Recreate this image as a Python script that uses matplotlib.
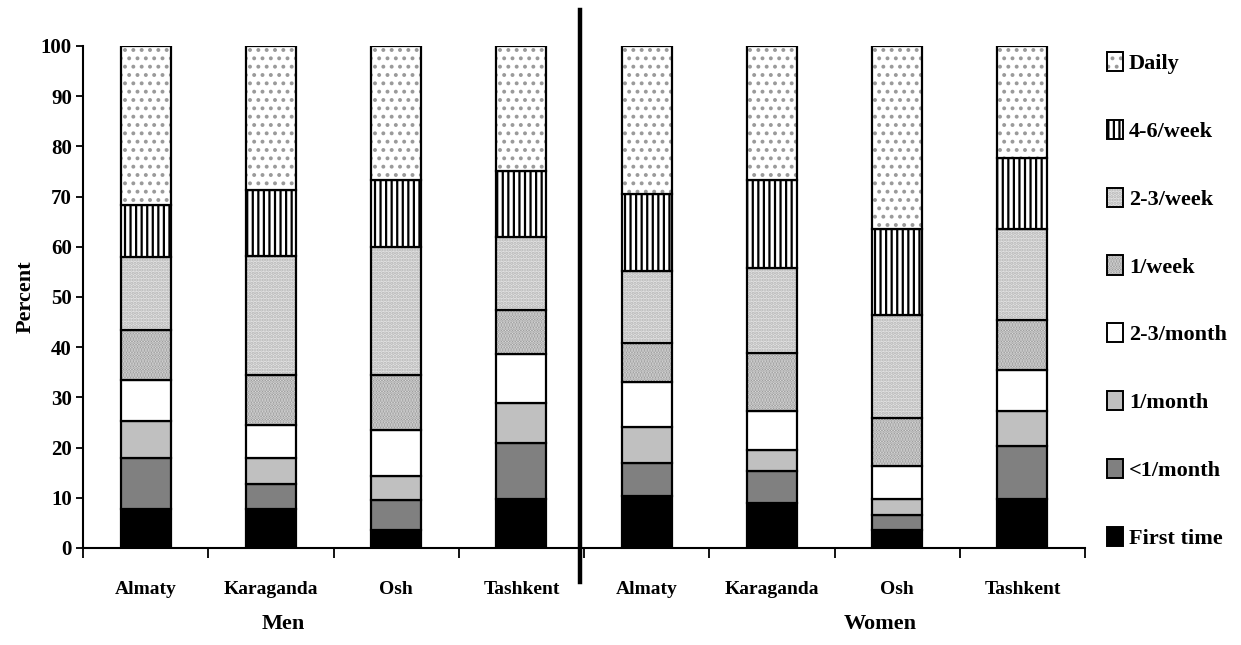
import numpy as np
import matplotlib
matplotlib.use('Agg')
import matplotlib.pyplot as plt
from matplotlib.patches import Patch
from matplotlib.lines import Line2D
from matplotlib.legend_handler import HandlerTuple
import matplotlib.transforms as mtransforms

plt.rcParams['font.family'] = ['Liberation Serif', 'DejaVu Serif']
plt.rcParams['font.weight'] = 'bold'
plt.rcParams['hatch.linewidth'] = 1.6

cities = ['Almaty', 'Karaganda', 'Osh', 'Tashkent',
          'Almaty', 'Karaganda', 'Osh', 'Tashkent']
groups = ['Men', 'Women']

# Segment values (percent), bottom to top
first_time = [7.7, 7.7, 3.6, 9.7, 10.4, 8.9, 3.6, 9.8]
less_1_month = [10.2, 5.0, 6.0, 11.3, 6.5, 6.5, 3.0, 10.6]
one_month = [7.3, 5.2, 4.7, 7.8, 7.3, 4.1, 3.1, 6.9]
two_three_month = [8.3, 6.6, 9.3, 9.8, 8.9, 7.7, 6.7, 8.2]
one_week = [9.9, 10.0, 10.9, 8.9, 7.7, 11.6, 9.4, 9.9]
two_three_week = [14.5, 23.7, 25.4, 14.5, 14.4, 16.9, 20.7, 18.1]
four_six_week = [10.4, 13.1, 13.5, 13.0, 15.3, 17.7, 17.0, 14.1]
daily = [31.7, 28.7, 26.6, 25.0, 29.5, 26.6, 36.5, 22.4]

series = [first_time, less_1_month, one_month, two_three_month,
          one_week, two_three_week, four_six_week, daily]
labels = ['First time', '<1/month', '1/month', '2-3/month',
          '1/week', '2-3/week', '4-6/week', 'Daily']

# (facecolor, hatch colour, hatch)
styles = [
    ('black', 'black', None),
    ('#808080', '#808080', None),
    ('#c0c0c0', '#c0c0c0', None),
    ('white', 'white', None),
    ('#8c8c8c', '#e0e0e0', '......'),
    ('#e4e4e4', '#b4b4b4', '.....'),
    ('white', 'black', '|||'),
    ('white', '#9a9a9a', '..'),
]

fig = plt.figure(figsize=(12.41, 6.45), dpi=100)
ax = fig.add_axes([0.0669, 0.1504, 0.8074, 0.7783])

x = np.arange(len(cities))
bottom = np.zeros(len(cities))
handles = []
for vals, lab, (fc, hc, hatch) in zip(series, labels, styles):
    vals = np.array(vals)
    # fill + pattern first, then a black outline on top
    ax.bar(x, vals, 0.4, bottom=bottom, facecolor=fc, edgecolor=hc,
           linewidth=0, hatch=hatch)
    ax.bar(x, vals, 0.4, bottom=bottom, facecolor='none',
           edgecolor='black', linewidth=1.6)
    bottom += vals
    h1 = Patch(facecolor=fc, edgecolor=hc, linewidth=0, hatch=hatch)
    h2 = Patch(facecolor='none', edgecolor='black', linewidth=1.4)
    handles.append((h1, h2))

ax.set_xlim(-0.5, len(cities) - 0.5)
ax.set_ylim(0, 100)
ax.set_yticks(np.arange(0, 101, 10))
ax.set_xticks(x)
ax.set_xticklabels(cities, fontsize=14, fontweight='bold')
ax.set_xticks(np.arange(-0.5, len(cities), 1), minor=True)
ax.tick_params(axis='x', which='major', length=0, pad=24)
ax.tick_params(axis='x', which='minor', length=7, width=1.3, direction='out')
ax.tick_params(axis='y', length=5, width=1.3, labelsize=15, pad=3)
for t in ax.get_yticklabels():
    t.set_fontweight('bold')
for s in ['top', 'right']:
    ax.spines[s].set_visible(False)
for s in ['left', 'bottom']:
    ax.spines[s].set_linewidth(1.5)

ax.set_ylabel('Percent', fontsize=16, fontweight='bold', labelpad=4)

# Divider between the Men and Women groups
trans = mtransforms.blended_transform_factory(ax.transData, fig.transFigure)
fig.add_artist(Line2D([3.47, 3.47], [0.985, 0.098], transform=trans,
                      color='black', linewidth=3.2))

fig.text(0.228, 0.033, groups[0], fontsize=16, fontweight='bold', ha='center', va='center')
fig.text(0.709, 0.033, groups[1], fontsize=16, fontweight='bold', ha='center', va='center')

fig.legend(handles[::-1], labels[::-1], loc='upper left',
           bbox_to_anchor=(0.8845, 0.933), frameon=False,
           handler_map={tuple: HandlerTuple(ndivide=1, pad=0)},
           prop={'family': 'Liberation Serif', 'weight': 'bold', 'size': 16},
           handlelength=0.75, handleheight=0.95, handletextpad=0.25,
           labelspacing=2.05, borderaxespad=0)

fig.savefig('out.png', dpi=100)
